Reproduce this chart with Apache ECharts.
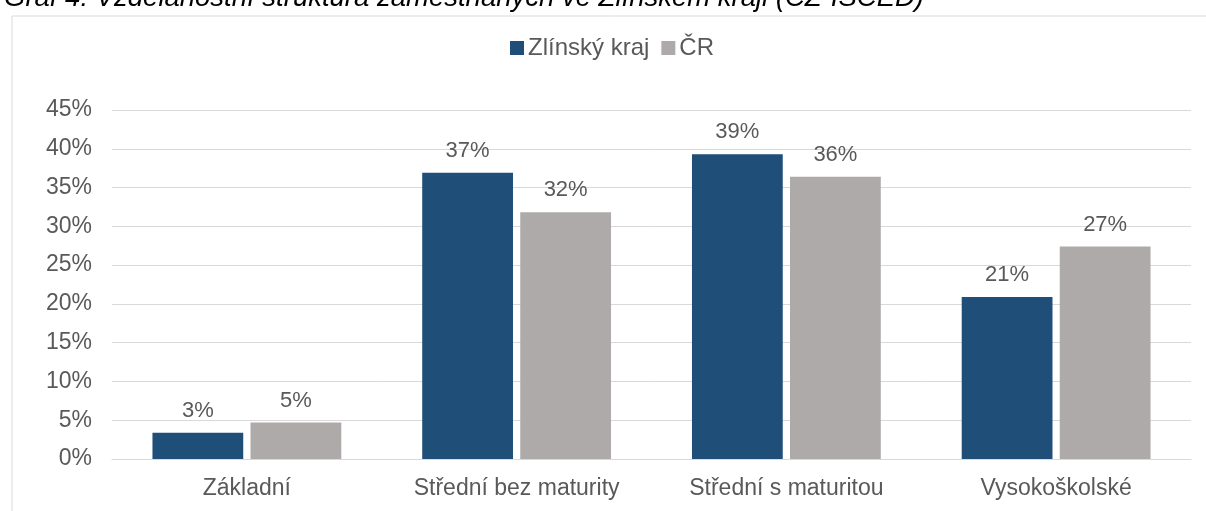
<!DOCTYPE html>
<html>
<head>
<meta charset="utf-8">
<script src="https://cdn.jsdelivr.net/npm/echarts@6/dist/echarts.min.js"></script>
<style>html,body{margin:0;padding:0;background:#fff;}#c{width:1206px;height:511px;}</style>
</head>
<body>
<div id="c"></div>
<script>
var categories = ['Základní', 'Střední bez maturity', 'Střední s maturitou', 'Vysokoškolské'];
var zlinValues = [3.4, 36.9, 39.3, 20.9];
var crValues = [4.7, 31.8, 36.4, 27.4];
var seriesNames = ['Zlínský kraj', 'ČR'];
var yTicks = [0, 5, 10, 15, 20, 25, 30, 35, 40, 45];
var titleText = 'Graf 4: Vzdělanostní struktura zaměstnaných ve Zlínském kraji (CZ-ISCED)';

var FONT = '"Liberation Sans", Arial, sans-serif';
var TXT = '#595959';
var chart = echarts.init(document.getElementById('c'));
chart.setOption({
  animation: false,
  backgroundColor: '#fff',
  title: {
    text: titleText, left: 4, top: -15, padding: 0,
    textStyle: { fontFamily: FONT, fontStyle: 'italic', fontWeight: 'normal', fontSize: 27.5, color: '#000' }
  },
  graphic: [{
    type: 'rect', left: 9.5, top: 13.5, shape: { x: 0, y: 0, width: 1300, height: 600 },
    style: { fill: 'none', stroke: '#D9D9D9', lineWidth: 1 }, silent: true, z: -1
  }],
  legend: {
    data: seriesNames, top: 36, left: 510, padding: 0, itemWidth: 14, itemHeight: 14, itemGap: 12,
    icon: 'rect',
    textStyle: { fontFamily: FONT, fontSize: 24, color: TXT, padding: [0, 0, 0, -1] }
  },
  grid: { left: 112, right: 15, top: 110, bottom: 52 },
  xAxis: {
    type: 'category', data: categories,
    axisLine: { lineStyle: { color: '#D9D9D9' } }, axisTick: { show: false },
    axisLabel: { fontFamily: FONT, fontSize: 23, color: TXT, margin: 18 }
  },
  yAxis: {
    type: 'value', min: 0, max: yTicks[yTicks.length - 1], interval: 5,
    axisLine: { show: false }, axisTick: { show: false },
    splitLine: { lineStyle: { color: '#D9D9D9' } },
    axisLabel: { fontFamily: FONT, fontSize: 23, color: TXT, margin: 20, formatter: function (v) { return v + '%'; } }
  },
  series: [
    { name: seriesNames[0], type: 'bar', data: zlinValues, barGap: '8%', barCategoryGap: '30%',
      itemStyle: { color: '#1F4E79' },
      label: { show: true, position: 'top', distance: 11, fontFamily: FONT, fontSize: 22, color: TXT,
        formatter: function (p) { return Math.round(p.value) + '%'; } } },
    { name: seriesNames[1], type: 'bar', data: crValues,
      itemStyle: { color: '#AEAAAA' },
      label: { show: true, position: 'top', distance: 11, fontFamily: FONT, fontSize: 22, color: TXT,
        formatter: function (p) { return Math.round(p.value) + '%'; } } }
  ]
});
</script>
</body>
</html>
